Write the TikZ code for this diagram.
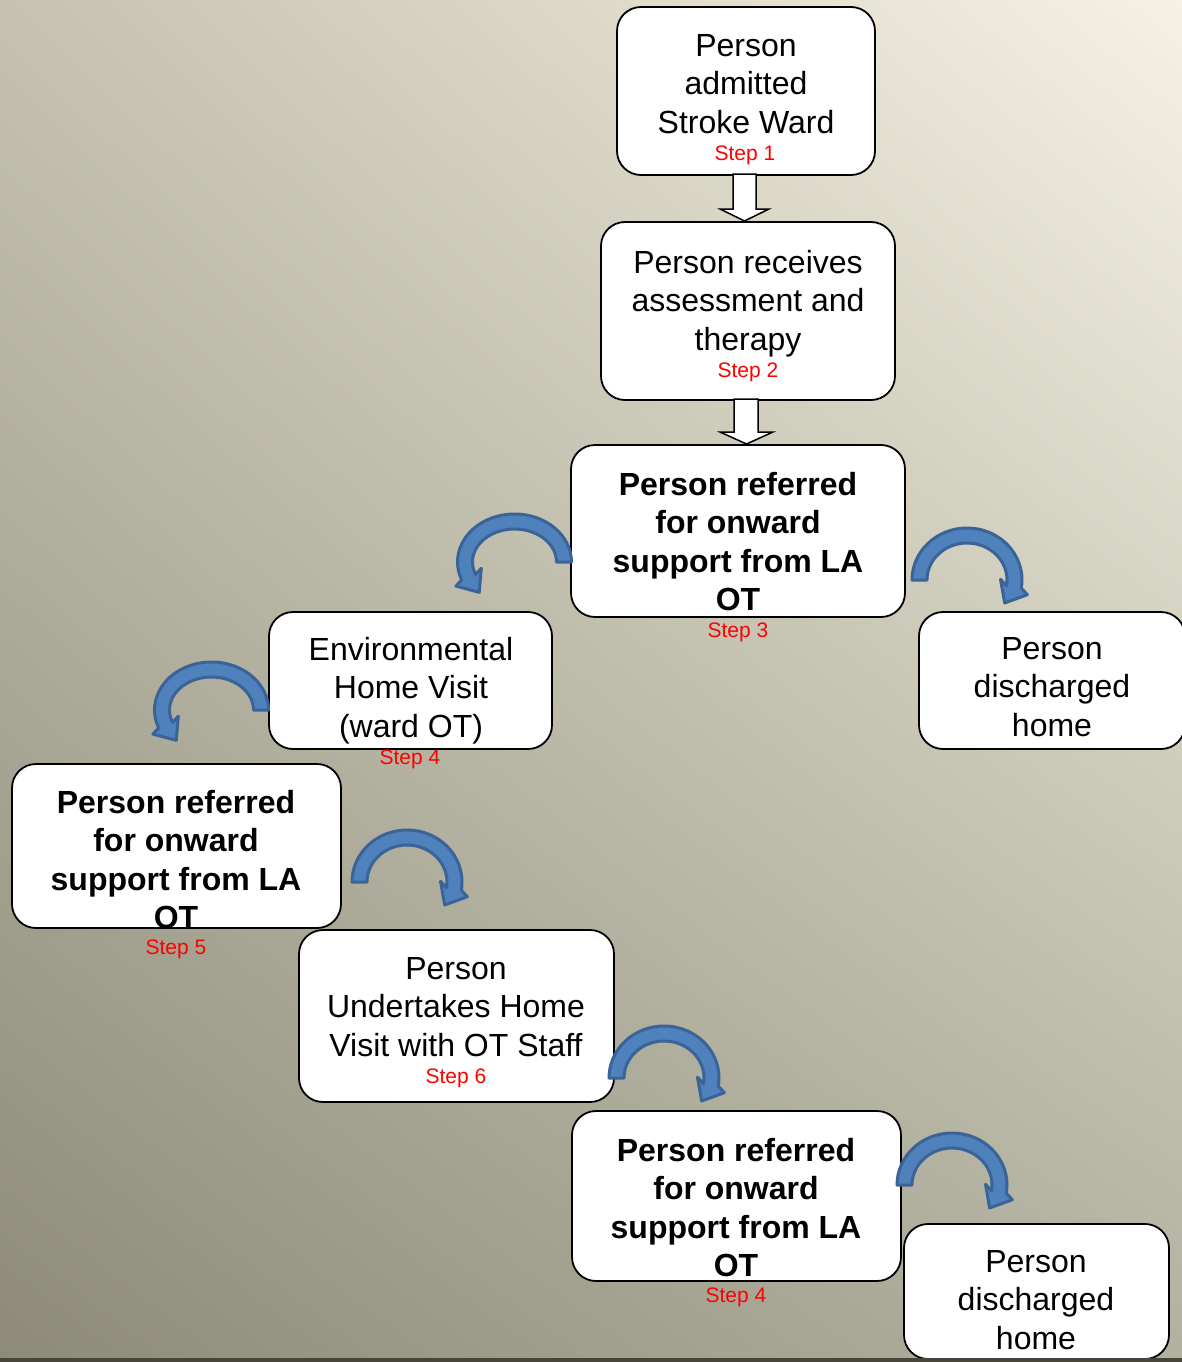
\documentclass[tikz,border=0pt]{standalone}
\usepackage{fontspec}
\setmainfont{Liberation Sans}
\usetikzlibrary{calc,shadings}
\definecolor{bgTL}{HTML}{C5C2B2}
\definecolor{bgTR}{HTML}{F5F2E3}
\definecolor{bgBL}{HTML}{8D8B78}
\definecolor{bgBR}{HTML}{B2B09F}
\definecolor{stepred}{HTML}{FF0000}
\definecolor{arrowfill}{HTML}{4F81BD}
\definecolor{arrowedge}{HTML}{3A6497}
\definecolor{bottomline}{HTML}{46453B}
\tikzset{
  boxnode/.style={draw=black, line width=1.8pt, fill=white, rounded corners=24pt, inner sep=0pt, outer sep=0pt},
  maintext/.style={font=\fontsize{32}{38.4}\selectfont, align=center, anchor=north, inner sep=0pt},
  boldtext/.style={maintext, font=\fontsize{32}{38.4}\selectfont\bfseries},
  steplabel/.style={text=stepred, font=\fontsize{21}{24}\selectfont, anchor=base, inner sep=0pt},
  curvarrow/.style={fill=arrowfill, draw=arrowedge, line width=3pt, line join=round},
  blockarrow/.style={fill=white, draw=black, line width=1.5pt, line join=miter},
}
\newcommand\curveRight[2]{%
  \filldraw[curvarrow] ({#1-55},#2) arc[start angle=180, end angle=369, x radius=55, y radius=52]
    -- ({#1+47.5*cos(9)+15.5*cos(30)},{#2+44.5*sin(9)+15.5*sin(30)})
    -- ({#1+47.5*cos(9)+18.5*cos(120)},{#2+44.5*sin(9)+18.5*sin(120)})
    -- ({#1+47.5*cos(9)-15.5*cos(30)},{#2+44.5*sin(9)-15.5*sin(30)})
    -- ({#1+40*cos(9)},{#2+37*sin(9)}) arc[start angle=369, end angle=180, x radius=40, y radius=37] -- cycle;}
\newcommand\curveLeft[2]{%
  \filldraw[curvarrow] ({#1+57},#2) arc[start angle=360, end angle=158, x radius=57, y radius=48]
    -- ({#1+49.5*cos(158)+15.5*cos(145)},{#2+40.5*sin(158)+15.5*sin(145)})
    -- ({#1+49.5*cos(158)+18.5*cos(55)},{#2+40.5*sin(158)+18.5*sin(55)})
    -- ({#1+49.5*cos(158)-15.5*cos(145)},{#2+40.5*sin(158)-15.5*sin(145)})
    -- ({#1+42*cos(158)},{#2+33*sin(158)}) arc[start angle=158, end angle=360, x radius=42, y radius=33] -- cycle;}
\begin{document}
\begin{tikzpicture}[x=1pt,y=-1pt]
\useasboundingbox (0,0) rectangle (1182,1362);
\shade[upper left=bgTL, upper right=bgTR, lower left=bgBL, lower right=bgBR] (0,0) rectangle (1182,1362);

% boxes
\node[boxnode, minimum width=258pt, minimum height=168pt] (b1) at (746,91) {};
\node[boxnode, minimum width=294pt, minimum height=178pt] (b2) at (748,311) {};
\node[boxnode, minimum width=334pt, minimum height=172pt] (b3) at (738,531) {};
\node[boxnode, minimum width=283pt, minimum height=137pt] (b4) at (410.5,680.5) {};
\node[boxnode, minimum width=266pt, minimum height=137pt] (b5) at (1052,680.5) {};
\node[boxnode, minimum width=329pt, minimum height=164pt] (b6) at (176.5,846) {};
\node[boxnode, minimum width=315pt, minimum height=172pt] (b7) at (456.5,1016) {};
\node[boxnode, minimum width=329pt, minimum height=170pt] (b8) at (736.5,1196) {};
\node[boxnode, minimum width=265pt, minimum height=135pt] (b9) at (1036.5,1291.5) {};

% texts
\node[maintext] (t1) at (746,34) {Person\\admitted\\Stroke Ward};
\node[maintext] (t2) at (748,250) {Person receives\\assessment and\\therapy};
\node[boldtext] (t3) at (738,472) {Person referred\\for onward\\support from LA\\OT};
\node[maintext] (t4) at (411,637) {Environmental\\Home Visit\\(ward OT)};
\node[maintext] (t5) at (1052,637) {Person\\discharged\\home};
\node[boldtext] (t6) at (176,790) {Person referred\\for onward\\support from LA\\OT};
\node[maintext] (t7) at (456,957) {Person\\Undertakes Home\\Visit with OT Staff};
\node[boldtext] (t8) at (736,1138) {Person referred\\for onward\\support from LA\\OT};
\node[maintext] (t9) at (1036,1250) {Person\\discharged\\home};

% step labels
\node[steplabel] (s1) at (745,160.5) {Step 1};
\node[steplabel] (s2) at (748,377.5) {Step 2};
\node[steplabel] (s3) at (738,637.5) {Step 3};
\node[steplabel] (s4) at (410,764.5) {Step 4};
\node[steplabel] (s5) at (176,954.5) {Step 5};
\node[steplabel] (s6) at (456,1083.5) {Step 6};
\node[steplabel] (s7) at (736,1302.5) {Step 4};

% block arrows
\draw[blockarrow] let \p1=(b1.south), \p2=(b2.north) in
  (\x1-13pt,\y1+1pt) -- (\x1-13pt,\y2+13pt) -- (\x1-26pt,\y2+13pt) -- (\x1-1.5pt,\y2+1pt)
  -- (\x1+23pt,\y2+13pt) -- (\x1+10pt,\y2+13pt) -- (\x1+10pt,\y1+1pt) -- cycle;
\draw[blockarrow] let \p1=(b2.south), \p2=(b3.north) in
  (\x1-14pt,\y1+1pt) -- (\x1-14pt,\y2+13pt) -- (\x1-28pt,\y2+13pt) -- (\x1-1.5pt,\y2+1pt)
  -- (\x1+25pt,\y2+13pt) -- (\x1+10pt,\y2+13pt) -- (\x1+10pt,\y1+1pt) -- cycle;

% curved arrows
\curveLeft{514.5}{562}
\curveRight{967}{580}
\curveLeft{211.5}{710}
\curveRight{407}{882}
\curveRight{664}{1078}
\curveRight{952}{1185}

\fill[bottomline] (0,1358) rectangle (1182,1362);
\end{tikzpicture}
\end{document}
